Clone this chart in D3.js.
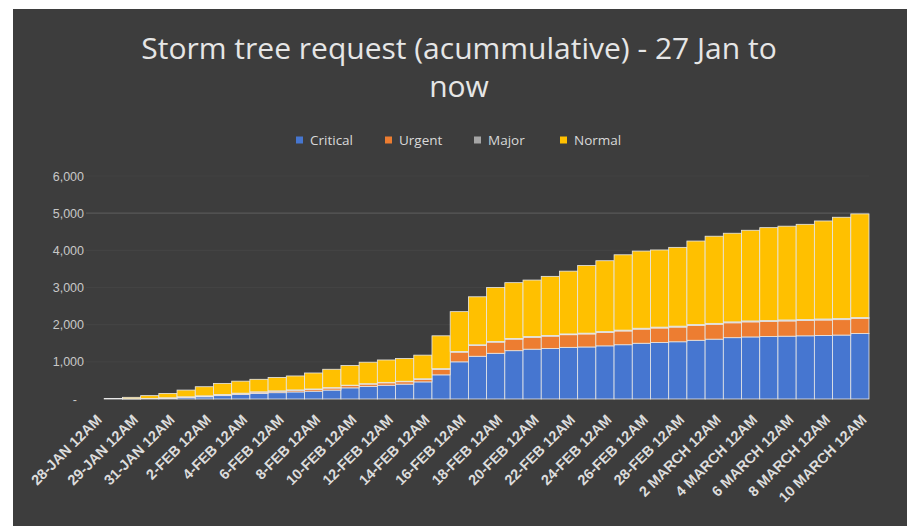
<!DOCTYPE html>
<html>
<head>
<meta charset="utf-8">
<script src="https://cdn.jsdelivr.net/npm/d3@7"></script>
<style>
  body { margin: 0; background: #fff; }
  svg { display: block; font-family: "Open Sans", sans-serif; }
</style>
</head>
<body>
<svg id="vis" width="915" height="530"></svg>
<script>
// categories (only every 2nd label is shown on the axis)
const categories = [
  "28-JAN 12AM", "28-JAN 12PM", "29-JAN 12AM", "30-JAN 12AM", "31-JAN 12AM", "1-FEB 12AM",
  "2-FEB 12AM", "3-FEB 12AM", "4-FEB 12AM", "5-FEB 12AM", "6-FEB 12AM", "7-FEB 12AM",
  "8-FEB 12AM", "9-FEB 12AM", "10-FEB 12AM", "11-FEB 12AM", "12-FEB 12AM", "13-FEB 12AM",
  "14-FEB 12AM", "15-FEB 12AM", "16-FEB 12AM", "17-FEB 12AM", "18-FEB 12AM", "19-FEB 12AM",
  "20-FEB 12AM", "21-FEB 12AM", "22-FEB 12AM", "23-FEB 12AM", "24-FEB 12AM", "25-FEB 12AM",
  "26-FEB 12AM", "27-FEB 12AM", "28-FEB 12AM", "1 MARCH 12AM", "2 MARCH 12AM", "3 MARCH 12AM",
  "4 MARCH 12AM", "5 MARCH 12AM", "6 MARCH 12AM", "7 MARCH 12AM", "8 MARCH 12AM", "9 MARCH 12AM",
  "10 MARCH 12AM"
];

const critical = [0, 0, 5, 10, 20, 40, 60, 90, 120, 150, 170, 190, 210, 240, 300, 340, 370, 400, 460, 650,
  1000, 1150, 1230, 1300, 1340, 1360, 1390, 1400, 1430, 1460, 1500, 1520, 1540, 1580, 1610, 1650,
  1670, 1680, 1690, 1700, 1710, 1720, 1760];
const urgent = [0, 0, 2, 5, 10, 15, 20, 25, 30, 35, 40, 45, 50, 55, 60, 60, 65, 65, 70, 150,
  260, 290, 300, 310, 320, 330, 340, 350, 360, 370, 380, 390, 395, 400, 400, 400,
  405, 405, 410, 410, 415, 415, 405];
const major = [0, 0, 1, 2, 3, 4, 5, 6, 7, 8, 9, 10, 10, 11, 12, 12, 13, 13, 14, 16,
  18, 19, 20, 20, 21, 21, 22, 22, 23, 23, 24, 24, 25, 25, 25, 26,
  26, 27, 27, 27, 28, 28, 28];
const normal = [0, 15, 37, 73, 117, 181, 245, 299, 323, 337, 361, 375, 430, 494, 528, 578, 602, 612, 636, 884,
  1072, 1291, 1450, 1500, 1519, 1589, 1688, 1818, 1907, 2027, 2076, 2076, 2120, 2245, 2345, 2384,
  2439, 2498, 2523, 2563, 2637, 2727, 2787];

const seriesNames = ["Critical", "Urgent", "Major", "Normal"];
const colors = ["#4676d0", "#ed7d31", "#a5a5a5", "#ffc000"];
const yTicks = [0, 1000, 2000, 3000, 4000, 5000, 6000];

const rows = categories.map((c, i) => ({
  cat: c, Critical: critical[i], Urgent: urgent[i], Major: major[i], Normal: normal[i]
}));

const svg = d3.select("#vis");

// chart background
svg.append("rect")
  .attr("x", 13).attr("y", 9)
  .attr("width", 894).attr("height", 517)
  .attr("fill", "#3d3d3d");

const x = d3.scaleBand().domain(categories).range([86, 869]).padding(0);
const y = d3.scaleLinear().domain([0, 6000]).range([399, 176]);

// gridlines (only the 5,000 one really shows in the original)
svg.append("g")
  .selectAll("line")
  .data(yTicks.filter(d => d > 0))
  .join("line")
  .attr("x1", 86).attr("x2", 869)
  .attr("y1", d => y(d)).attr("y2", d => y(d))
  .attr("stroke", d => d === 5000 ? "#585858" : "#434343")
  .attr("stroke-width", 1.2);

// y axis
const yAxis = svg.append("g")
  .attr("transform", "translate(84,0)")
  .call(d3.axisLeft(y).tickValues(yTicks).tickSize(0).tickPadding(0)
    .tickFormat(d => d === 0 ? "-" : d3.format(",")(d)));
yAxis.select(".domain").remove();
yAxis.selectAll("text")
  .attr("fill", "#c8c8c8")
  .attr("font-size", 12.5)
  .attr("dx", d => d === 0 ? -7 : 0);

// stacked bars
const stack = d3.stack().keys(seriesNames)(rows);
svg.append("g")
  .selectAll("g")
  .data(stack)
  .join("g")
  .attr("fill", (d, i) => colors[i])
  .selectAll("rect")
  .data(d => d)
  .join("rect")
  .attr("x", d => x(d.data.cat))
  .attr("width", x.bandwidth())
  .attr("y", d => y(d[1]))
  .attr("height", d => y(d[0]) - y(d[1]))
  .attr("stroke", "#e8e8e8")
  .attr("stroke-width", 0.8);

// x axis labels
const xAxis = svg.append("g")
  .attr("transform", "translate(0,399)")
  .call(d3.axisBottom(x)
    .tickValues(categories.filter((c, i) => i % 2 === 0))
    .tickSize(0).tickPadding(0));
xAxis.select(".domain").remove();
xAxis.selectAll("text")
  .attr("fill", "#dcdcdc")
  .attr("font-size", 14.5)
  .attr("font-weight", "bold")
  .attr("text-anchor", "end")
  .attr("y", 0)
  .attr("dy", "0.35em")
  .attr("transform", "translate(4,18) rotate(-45)");

// title
const title = svg.append("text")
  .attr("x", 459).attr("y", 59)
  .attr("text-anchor", "middle")
  .attr("fill", "#e6e6e6")
  .attr("font-size", 30);
title.append("tspan").attr("x", 459).text("Storm tree request (acummulative) - 27 Jan to");
title.append("tspan").attr("x", 459).attr("dy", 38).text("now");

// legend
const legendX = [296, 385, 474, 560];
const legend = svg.append("g")
  .selectAll("g")
  .data(seriesNames)
  .join("g")
  .attr("transform", (d, i) => `translate(${legendX[i]},140)`);
legend.append("rect")
  .attr("x", 0).attr("y", -3.5)
  .attr("width", 7).attr("height", 7)
  .attr("fill", (d, i) => colors[i]);
legend.append("text")
  .attr("x", 14).attr("dy", "0.35em")
  .attr("fill", "#d9d9d9")
  .attr("font-size", 13.5)
  .text(d => d);
</script>
</body>
</html>
